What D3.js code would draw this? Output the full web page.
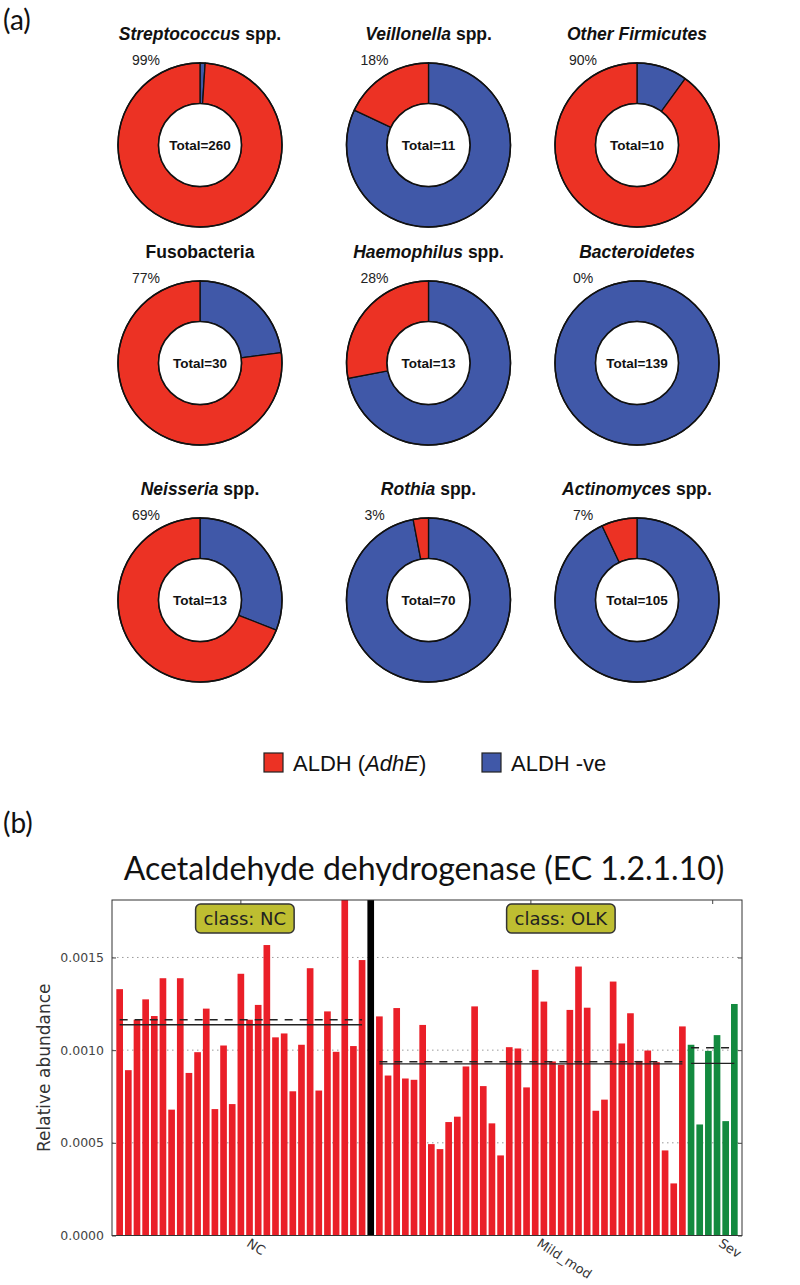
<!DOCTYPE html>
<html>
<head>
<meta charset="utf-8">
<script src="https://cdn.jsdelivr.net/npm/d3@7"></script>
<style>
  body { margin: 0; background: #ffffff; }
  svg { display: block; }
</style>
</head>
<body>
<svg id="chart" width="800" height="1285"></svg>
<script>
// ---------------- Panel (a) data ----------------
const taxaNames   = ["Streptococcus", "Veillonella", "Other Firmicutes", "Fusobacteria", "Haemophilus", "Bacteroidetes", "Neisseria", "Rothia", "Actinomyces"];
const taxaItalic  = [true, true, true, false, true, true, true, true, true];
const taxaSuffix  = [" spp.", " spp.", "", "", " spp.", "", " spp.", " spp.", " spp."];
const aldhPercent = [99, 18, 90, 77, 28, 0, 69, 3, 7];
const taxaTotals  = [260, 11, 10, 30, 13, 139, 13, 70, 105];
const legendKeys  = ["pos", "neg"];

// ---------------- Panel (b) data ----------------
const chartTitle = "Acetaldehyde dehydrogenase (EC 1.2.1.10)";
const ncValues = [0.001329, 0.000892, 0.001164, 0.001274, 0.001184, 0.001388, 0.000679, 0.001388, 0.000877, 0.000989,
                  0.001224, 0.000682, 0.001025, 0.000709, 0.001412, 0.001164, 0.001244, 0.001567, 0.001069, 0.001090,
                  0.000778, 0.001029, 0.001442, 0.000782, 0.001209, 0.000991, 0.001884, 0.001022, 0.001486];
const mildModValues = [0.001182, 0.000863, 0.001227, 0.000847, 0.000840, 0.001136, 0.000493, 0.000466, 0.000612, 0.000641,
                       0.000912, 0.001236, 0.000806, 0.000605, 0.000432, 0.001016, 0.001009, 0.000799, 0.001433, 0.001262,
                       0.000939, 0.000921, 0.001217, 0.001451, 0.001229, 0.000673, 0.000733, 0.001370, 0.001036, 0.001199,
                       0.000942, 0.000998, 0.000935, 0.000459, 0.000281, 0.001128];
const sevValues = [0.001029, 0.000599, 0.000996, 0.001081, 0.000617, 0.001249];
const subclassNames = ["NC", "Mild_mod", "Sev"];
const classNames = ["NC", "OLK"];
const yTickValues = [0.0000, 0.0005, 0.0010, 0.0015];
const yMax = 0.00181;

// ---------------- styles / layout ----------------
const RED = "#EC3224", BLUE = "#4058A8";
const BAR_RED = "#EA1F28", BAR_GREEN = "#138A3F";
const svg = d3.select("#chart");

// panel labels
svg.append("text").attr("x", 3).attr("y", 30).attr("font-family", "Lato, 'Open Sans', sans-serif")
  .attr("font-size", 28).attr("fill", "#111").text("(a)");
svg.append("text").attr("x", 3).attr("y", 833).attr("font-family", "Lato, 'Open Sans', sans-serif")
  .attr("font-size", 28).attr("fill", "#111").text("(b)");

// ---------------- donuts ----------------
const colCx = [200, 428.5, 637];
const rowCy = [145, 363, 600];
const outerR = 82, innerR = 41.5;
const pie = d3.pie().sort(null).value(d => d.value).startAngle(0).endAngle(2 * Math.PI);
const arc = d3.arc().innerRadius(innerR).outerRadius(outerR);
const sansBold = "'Liberation Sans', Arial, Helvetica, sans-serif";

taxaNames.forEach((name, i) => {
  const cx = colCx[i % 3], cy = rowCy[Math.floor(i / 3)];
  const g = svg.append("g").attr("transform", `translate(${cx},${cy})`);
  const slices = [
    { key: "neg", value: 100 - aldhPercent[i] },
    { key: "pos", value: aldhPercent[i] }
  ].filter(d => d.value > 0);
  g.selectAll("path.slice").data(pie(slices)).join("path")
    .attr("class", "slice")
    .attr("d", arc)
    .attr("fill", d => d.data.key === "pos" ? RED : BLUE)
    .attr("stroke", "#111").attr("stroke-width", 1.3);
  g.append("circle").attr("r", outerR).attr("fill", "none").attr("stroke", "#111").attr("stroke-width", 1.6);
  g.append("circle").attr("r", innerR).attr("fill", "#fff").attr("stroke", "#111").attr("stroke-width", 1.6);

  g.append("text").attr("x", 0).attr("y", 5)
    .attr("text-anchor", "middle").attr("font-family", sansBold).attr("font-weight", "bold")
    .attr("font-size", 13.5).attr("fill", "#111")
    .text(`Total=${taxaTotals[i]}`);

  g.append("text").attr("x", -54).attr("y", -80)
    .attr("text-anchor", "middle").attr("font-family", sansBold)
    .attr("font-size", 14).attr("fill", "#222")
    .text(`${aldhPercent[i]}%`);

  const t = g.append("text").attr("x", 0).attr("y", -105)
    .attr("text-anchor", "middle").attr("font-family", sansBold).attr("font-weight", "bold")
    .attr("font-size", 17.5).attr("fill", "#111");
  t.append("tspan").attr("font-style", taxaItalic[i] ? "italic" : "normal").text(name);
  if (taxaSuffix[i]) t.append("tspan").attr("font-style", "normal").text(taxaSuffix[i]);
});

// legend
const legend = svg.append("g").attr("font-family", sansBold).attr("font-size", 22).attr("fill", "#111");
const legendX = { pos: 264, neg: 482 };
legendKeys.forEach(k => {
  legend.append("rect").attr("x", legendX[k]).attr("y", 753).attr("width", 19).attr("height", 19)
    .attr("fill", k === "pos" ? RED : BLUE).attr("stroke", "#222").attr("stroke-width", 1.2);
  const t = legend.append("text").attr("x", legendX[k] + 29).attr("y", 771);
  if (k === "pos") {
    t.append("tspan").text("ALDH (");
    t.append("tspan").attr("font-style", "italic").text("AdhE");
    t.append("tspan").text(")");
  } else {
    t.text("ALDH -ve");
  }
});

// ---------------- bar chart ----------------
const plot = { left: 112, right: 742, top: 900, bottom: 1235.5 };
const bars = [
  ...ncValues.map(v => ({ v, sub: "NC", cls: "NC" })),
  { gap: true },
  ...mildModValues.map(v => ({ v, sub: "Mild_mod", cls: "OLK" })),
  ...sevValues.map(v => ({ v, sub: "Sev", cls: "OLK" }))
];
bars.forEach((d, i) => d.i = i);

const x = d3.scaleBand().domain(d3.range(bars.length)).range([plot.left, plot.right])
  .paddingInner(0.23).paddingOuter(0.5);
const y = d3.scaleLinear().domain([0, yMax]).range([plot.bottom, plot.top]);

svg.append("defs").append("clipPath").attr("id", "plotclip")
  .append("rect").attr("x", plot.left).attr("y", plot.top)
  .attr("width", plot.right - plot.left).attr("height", plot.bottom - plot.top);

const dejavu = "'DejaVu Sans', Verdana, sans-serif";

// gridlines
svg.append("g").selectAll("line").data(yTickValues.filter(v => v > 0)).join("line")
  .attr("x1", plot.left).attr("x2", plot.right)
  .attr("y1", d => y(d)).attr("y2", d => y(d))
  .attr("stroke", "#9a9a9a").attr("stroke-width", 1).attr("stroke-dasharray", "1.5,3.5");

// bars
const barG = svg.append("g").attr("clip-path", "url(#plotclip)");
barG.selectAll("rect.bar").data(bars.filter(d => !d.gap)).join("rect")
  .attr("class", "bar")
  .attr("x", d => x(d.i)).attr("width", x.bandwidth())
  .attr("y", d => y(d.v)).attr("height", d => y(0) - y(d.v))
  .attr("fill", d => d.sub === "Sev" ? BAR_GREEN : BAR_RED);

// class separator
const gapBar = bars.find(d => d.gap);
barG.append("rect").attr("x", x(gapBar.i)).attr("width", x.bandwidth())
  .attr("y", plot.top).attr("height", plot.bottom - plot.top).attr("fill", "#000");

// mean (solid) and median (dashed) per subclass
subclassNames.forEach(s => {
  const sb = bars.filter(d => d.sub === s);
  const x1 = x(sb[0].i) + x.bandwidth() / 2, x2 = x(sb[sb.length - 1].i) + x.bandwidth() / 2;
  const mean = d3.mean(sb, d => d.v), med = d3.median(sb, d => d.v);
  svg.append("line").attr("x1", x1).attr("x2", x2).attr("y1", y(mean)).attr("y2", y(mean))
    .attr("stroke", "#222").attr("stroke-width", 1.4);
  svg.append("line").attr("x1", x1).attr("x2", x2).attr("y1", y(med)).attr("y2", y(med))
    .attr("stroke", "#222").attr("stroke-width", 1.6).attr("stroke-dasharray", "8,7");
});

// frame
svg.append("rect").attr("x", plot.left).attr("y", plot.top)
  .attr("width", plot.right - plot.left).attr("height", plot.bottom - plot.top)
  .attr("fill", "none").attr("stroke", "#333").attr("stroke-width", 1);

// y axis (inward ticks)
const yAxisL = svg.append("g").attr("transform", `translate(${plot.left},0)`)
  .call(d3.axisLeft(y).tickValues(yTickValues).tickFormat(d3.format(".4f")).tickSizeInner(-4).tickSizeOuter(0).tickPadding(8));
yAxisL.select(".domain").remove();
yAxisL.selectAll("text").attr("font-family", dejavu).attr("font-size", 12.5).attr("fill", "#444");
yAxisL.selectAll("line").attr("stroke", "#444");
const yAxisR = svg.append("g").attr("transform", `translate(${plot.right},0)`)
  .call(d3.axisRight(y).tickValues(yTickValues).tickFormat("").tickSizeInner(-4).tickSizeOuter(0));
yAxisR.select(".domain").remove();
yAxisR.selectAll("line").attr("stroke", "#444");

// subclass ticks (top, inward) and rotated labels (bottom)
const subCenters = subclassNames.map(s => {
  const sb = bars.filter(d => d.sub === s);
  return { name: s, cx: (x(sb[0].i) + x(sb[sb.length - 1].i) + x.bandwidth()) / 2 };
});
svg.append("g").selectAll("line").data(subCenters).join("line")
  .attr("x1", d => d.cx).attr("x2", d => d.cx).attr("y1", plot.top).attr("y2", plot.top + 4)
  .attr("stroke", "#444");
svg.append("g").selectAll("text").data(subCenters).join("text")
  .attr("transform", d => `translate(${d.cx + 5},${plot.bottom + 10}) rotate(33)`)
  .attr("text-anchor", "start").attr("font-family", dejavu).attr("font-size", 13).attr("fill", "#333")
  .text(d => d.name);

// class label boxes
classNames.forEach(c => {
  const cb = bars.filter(d => d.cls === c);
  const cx = (x(cb[0].i) + x(cb[cb.length - 1].i) + x.bandwidth()) / 2 + 4;
  const g = svg.append("g");
  const t = g.append("text").attr("x", cx).attr("y", 925).attr("text-anchor", "middle")
    .attr("font-family", dejavu).attr("font-size", 18).attr("fill", "#222").text(`class: ${c}`);
  const w = t.node().getComputedTextLength();
  g.insert("rect", "text").attr("x", cx - w / 2 - 8).attr("y", 904).attr("width", w + 16).attr("height", 29)
    .attr("rx", 5).attr("fill", "#BEBE31").attr("stroke", "#333").attr("stroke-width", 1.5);
});

// y label
svg.append("text").attr("transform", `translate(50,${(plot.top + plot.bottom) / 2}) rotate(-90)`)
  .attr("text-anchor", "middle").attr("font-family", dejavu).attr("font-size", 17).attr("fill", "#333")
  .text("Relative abundance");

// title
svg.append("text").attr("x", 424).attr("y", 880).attr("text-anchor", "middle")
  .attr("font-family", "Lato, 'Open Sans', sans-serif").attr("font-size", 32).attr("fill", "#111")
  .text(chartTitle);
</script>
</body>
</html>
